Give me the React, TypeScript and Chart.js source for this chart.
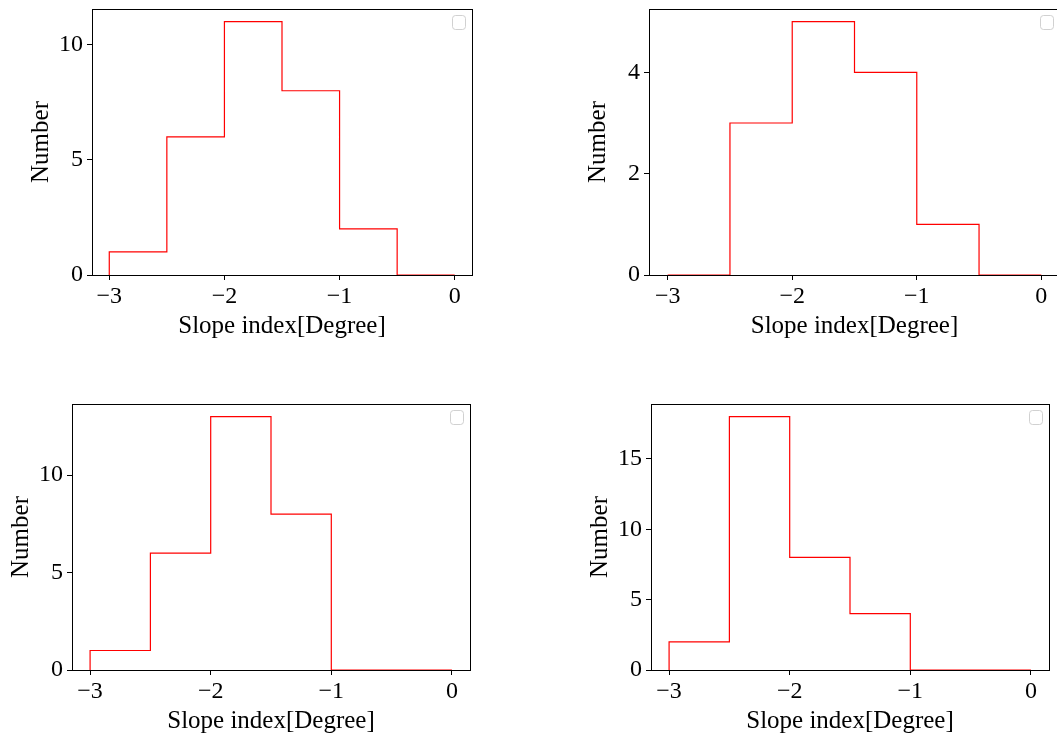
import React, { useEffect, useRef } from "react";
import { Chart, registerables } from "chart.js";

Chart.register(...registerables);

const binEdges = [-3, -2.5, -2, -1.5, -1, -0.5, 0];
const countsA = [1, 6, 11, 8, 2, 0];
const countsB = [0, 3, 5, 4, 1, 0];
const countsC = [1, 6, 13, 8, 0, 0];
const countsD = [2, 18, 8, 4, 0, 0];
const xTicks = [-3, -2, -1, 0];
const yTicksA = [0, 5, 10];
const yTicksB = [0, 2, 4];
const yTicksC = [0, 5, 10];
const yTicksD = [0, 5, 10, 15];
const xTitle = "Slope index[Degree]";
const yTitle = "Number";

const FONT = "'Liberation Serif', 'Times New Roman', serif";
const Y_AXIS_W = 70;
const X_AXIS_H = 70;
const PAD_TOP = 20;
const PAD_RIGHT = 10;

type Panel = {
  counts: number[];
  yTicks: number[];
  left: number;
  top: number;
  width: number;
  height: number;
};

const panels: Panel[] = [
  { counts: countsA, yTicks: yTicksA, left: 92, top: 9, width: 380, height: 266 },
  { counts: countsB, yTicks: yTicksB, left: 649, top: 9, width: 411, height: 266 },
  { counts: countsC, yTicks: yTicksC, left: 72, top: 404, width: 398, height: 266 },
  { counts: countsD, yTicks: yTicksD, left: 651, top: 404, width: 398, height: 266 },
];

// outline of a step histogram: start at (first edge, 0), then each bin's left edge at its count,
// drawn with stepped 'before' (horizontal, then vertical)
function stepPoints(counts: number[]) {
  const pts: { x: number; y: number }[] = [{ x: binEdges[0], y: 0 }];
  pts.push({ x: binEdges[0], y: counts[0] });
  for (let i = 1; i < counts.length; i++) pts.push({ x: binEdges[i], y: counts[i] });
  pts.push({ x: binEdges[binEdges.length - 1], y: 0 });
  return pts;
}

const fmt = (v: number) => (v < 0 ? "\u2212" + Math.abs(v) : String(v));

const framePlugin = {
  id: "frameAndLegend",
  beforeDatasetsDraw(chart: any) {
    const { ctx, chartArea } = chart;
    ctx.save();
    ctx.strokeStyle = "#000";
    ctx.lineWidth = 1;
    ctx.strokeRect(
      Math.round(chartArea.left) + 0.5,
      Math.round(chartArea.top) + 0.5,
      Math.round(chartArea.right - chartArea.left),
      Math.round(chartArea.bottom - chartArea.top)
    );
    // empty legend box
    const w = 13;
    const h = 14;
    const x = Math.round(chartArea.right) - 7 - w + 0.5;
    const y = Math.round(chartArea.top) + 6 + 0.5;
    ctx.strokeStyle = "rgba(204,204,204,0.9)";
    ctx.beginPath();
    if ((ctx as any).roundRect) (ctx as any).roundRect(x, y, w, h, 3);
    else ctx.rect(x, y, w, h);
    ctx.stroke();
    ctx.restore();
  },
};

function PanelChart({ p }: { p: Panel }) {
  const ref = useRef<HTMLCanvasElement>(null);
  useEffect(() => {
    if (!ref.current) return;
    const maxC = Math.max(...p.counts);
    const chart = new Chart(ref.current, {
      type: "line",
      data: {
        datasets: [
          {
            data: stepPoints(p.counts),
            stepped: "before",
            borderColor: "#ff0000",
            borderWidth: 1.2,
            pointRadius: 0,
            fill: false,
          },
        ],
      },
      options: {
        animation: false,
        responsive: false,
        events: [],
        layout: { padding: { left: 0, top: PAD_TOP, right: PAD_RIGHT, bottom: 0 } },
        plugins: { legend: { display: false }, tooltip: { enabled: false } },
        scales: {
          x: {
            type: "linear",
            min: -3.15,
            max: 0.15,
            afterBuildTicks: (s: any) => {
              s.ticks = xTicks.map((v) => ({ value: v }));
            },
            afterFit: (s: any) => {
              s.height = X_AXIS_H;
            },
            border: { display: false },
            grid: { drawOnChartArea: false, drawTicks: true, tickLength: 5, color: "#000", tickWidth: 1 },
            ticks: {
              color: "#000",
              padding: 2,
              maxRotation: 0,
              autoSkip: false,
              font: { family: FONT, size: 24 },
              callback: (v: any) => fmt(Number(v)),
            },
            title: {
              display: true,
              text: xTitle,
              color: "#000",
              font: { family: FONT, size: 25 },
              padding: { top: 4, bottom: 4 },
            },
          },
          y: {
            type: "linear",
            min: 0,
            max: maxC * 1.05,
            afterBuildTicks: (s: any) => {
              s.ticks = p.yTicks.map((v) => ({ value: v }));
            },
            afterFit: (s: any) => {
              s.width = Y_AXIS_W;
            },
            border: { display: false },
            grid: { drawOnChartArea: false, drawTicks: true, tickLength: 5, color: "#000", tickWidth: 1 },
            ticks: {
              color: "#000",
              padding: 4,
              autoSkip: false,
              font: { family: FONT, size: 24 },
              callback: (v: any) => fmt(Number(v)),
            },
            title: {
              display: true,
              text: yTitle,
              color: "#000",
              font: { family: FONT, size: 25 },
              padding: { top: 4, bottom: 4 },
            },
          },
        },
      },
      plugins: [framePlugin],
    });
    return () => chart.destroy();
  }, [p]);

  const cw = p.width + Y_AXIS_W + PAD_RIGHT;
  const ch = p.height + PAD_TOP + X_AXIS_H;
  return (
    <canvas
      ref={ref}
      width={cw}
      height={ch}
      style={{
        position: "absolute",
        left: p.left - Y_AXIS_W,
        top: p.top - PAD_TOP,
        width: cw,
        height: ch,
      }}
    />
  );
}

export default function App() {
  return (
    <div
      style={{
        position: "fixed",
        left: 0,
        top: 0,
        width: 1057,
        height: 740,
        overflow: "hidden",
        background: "#fff",
      }}
    >
      {panels.map((p, i) => (
        <PanelChart key={i} p={p} />
      ))}
    </div>
  );
}
